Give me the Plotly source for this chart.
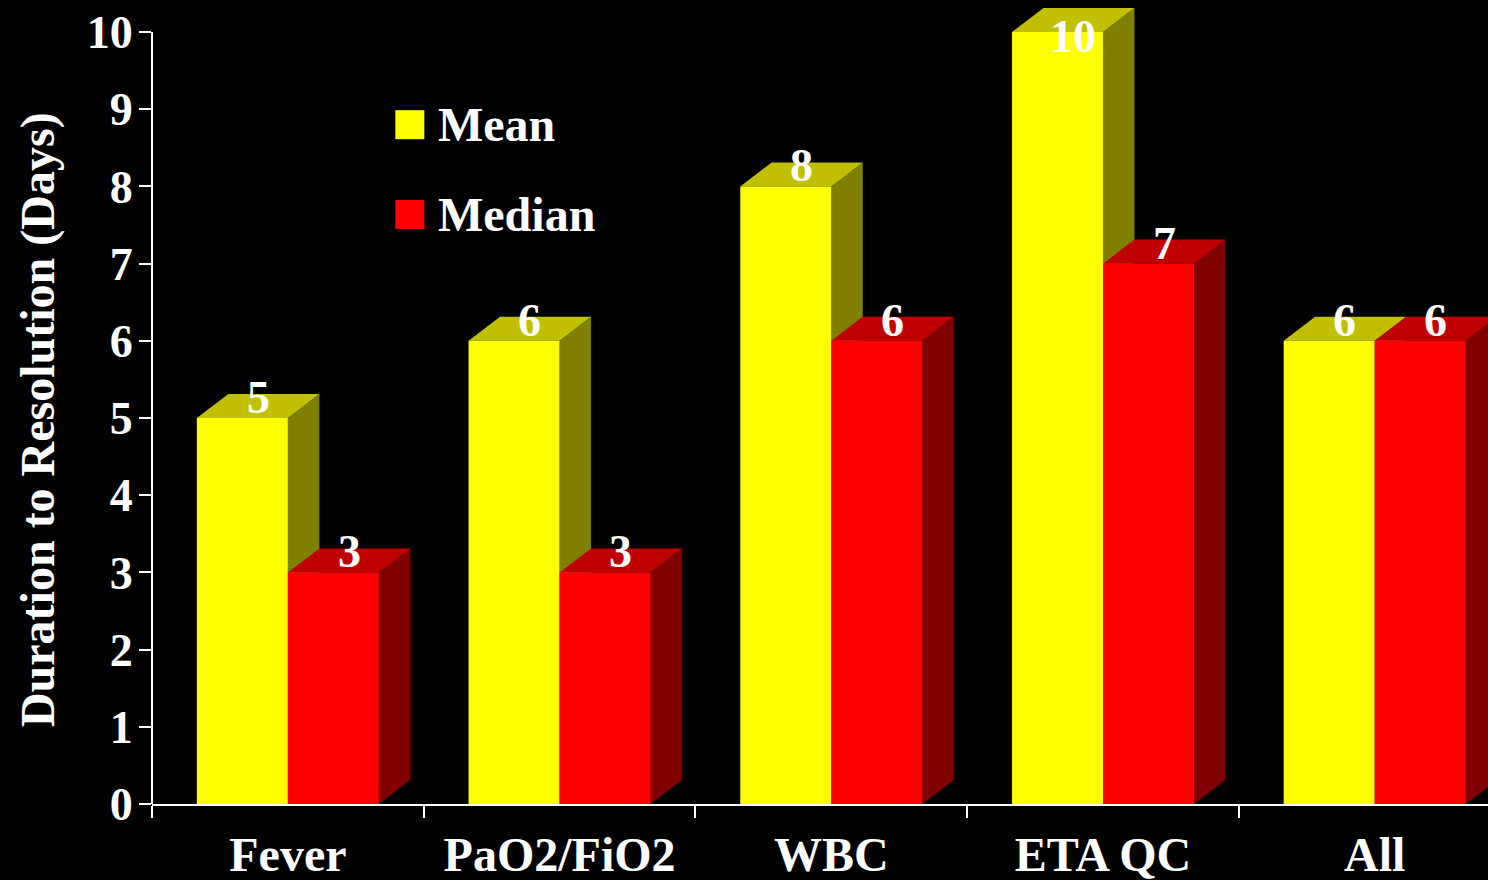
import plotly.graph_objects as go

# Duration to resolution by marker (days)
categories = ["Fever", "PaO2/FiO2", "WBC", "ETA QC", "All"]
mean_days = [5, 6, 8, 10, 6]
median_days = [3, 3, 6, 7, 6]
series_names = ["Mean", "Median"]
y_ticks = list(range(0, 11))

# Pseudo-3D bar geometry in data units
BAR_W = 0.335      # width of each front face
DEPTH_X = 0.116    # horizontal depth offset
DEPTH_Y = 0.311    # vertical depth offset
X_RANGE = [-0.5, 4.417]
Y_RANGE = [0, 10.415]
LABEL_CEILING = 9.94

FONT = "Liberation Serif"

palettes = [
    {"front": "#FFFF00", "top": "#C0C000", "side": "#808000"},
    {"front": "#FF0000", "top": "#C00000", "side": "#800000"},
]


def faces(x0, value):
    x1 = x0 + BAR_W
    front = ([x0, x1, x1, x0, x0], [0, 0, value, value, 0])
    top = ([x0, x1, x1 + DEPTH_X, x0 + DEPTH_X, x0],
           [value, value, value + DEPTH_Y, value + DEPTH_Y, value])
    side = ([x1, x1 + DEPTH_X, x1 + DEPTH_X, x1, x1],
            [0, DEPTH_Y, value + DEPTH_Y, value, 0])
    return front, top, side


fig = go.Figure()
annotations = []

for s, values in enumerate([mean_days, median_days]):
    xs = {"side": [], "top": [], "front": []}
    ys = {"side": [], "top": [], "front": []}
    for i, v in enumerate(values):
        x0 = i - BAR_W if s == 0 else i
        front, top, side = faces(x0, v)
        for key, (px, py) in (("side", side), ("top", top), ("front", front)):
            xs[key] += px + [None]
            ys[key] += py + [None]
        annotations.append(dict(
            x=x0 + BAR_W / 2 + DEPTH_X / 2,
            y=min(v + 0.266, LABEL_CEILING),
            xref="x", yref="y", text=str(v), showarrow=False,
            xanchor="center", yanchor="middle",
            font=dict(family=FONT, size=46, color="white", weight="bold"),
        ))
    for key in ("side", "top", "front"):
        fig.add_trace(go.Scatter(
            x=xs[key], y=ys[key], mode="lines", fill="toself",
            fillcolor=palettes[s][key], line=dict(width=0),
            hoverinfo="skip", showlegend=False,
        ))

# Legend keys and labels
legend_x = 0.449
legend_y = [8.80, 7.636]
fig.add_trace(go.Scatter(
    x=[legend_x] * 2, y=legend_y, mode="markers",
    marker=dict(symbol="square", size=29,
                color=[palettes[0]["front"], palettes[1]["front"]],
                line=dict(width=0)),
    hoverinfo="skip", showlegend=False,
))
for name, ly in zip(series_names, legend_y):
    annotations.append(dict(
        x=legend_x + 0.096, y=ly, xref="x", yref="y", text=name,
        showarrow=False, xanchor="left", yanchor="middle",
        font=dict(family=FONT, size=48, color="white", weight="bold"),
    ))

annotations.append(dict(
    x=-0.0853, y=0.4776, xref="paper", yref="paper",
    text="Duration to Resolution (Days)", textangle=-90, showarrow=False,
    xanchor="center", yanchor="middle",
    font=dict(family=FONT, size=48, color="white", weight="bold"),
))

fig.update_layout(
    width=1488, height=880,
    margin=dict(l=152, r=0, t=0, b=76),
    paper_bgcolor="black", plot_bgcolor="black",
    showlegend=False,
    annotations=annotations,
    shapes=[dict(type="line", xref="paper", yref="y", x0=0, x1=0, y0=0, y1=10,
                 line=dict(color="white", width=2), layer="above")],
    xaxis=dict(
        range=X_RANGE, tickvals=list(range(len(categories))), ticktext=categories,
        ticks="", showgrid=False, zeroline=False,
        showline=True, linecolor="white", linewidth=2,
        ticklabelstandoff=7,
        tickfont=dict(family=FONT, size=48, color="white", weight="bold"),
        minor=dict(tickvals=[i - 0.5 for i in range(len(categories))],
                   ticks="outside", ticklen=12, tickwidth=2, tickcolor="white"),
    ),
    yaxis=dict(
        range=Y_RANGE, tickvals=y_ticks, ticks="outside", ticklen=12,
        tickwidth=2, tickcolor="white", showgrid=False, zeroline=False,
        showline=False, ticklabelstandoff=-3,
        tickfont=dict(family=FONT, size=46, color="white", weight="bold"),
    ),
)

fig.write_html("out.html")
